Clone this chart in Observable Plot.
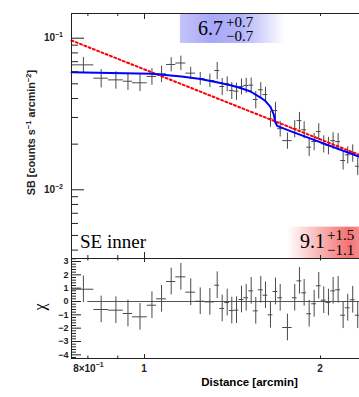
<!DOCTYPE html>
<html><head><meta charset="utf-8">
<script src="https://cdn.jsdelivr.net/npm/d3@7"></script>
<script src="https://cdn.jsdelivr.net/npm/@observablehq/plot@0.6"></script>
<style>
html,body{margin:0;padding:0;background:#fff;overflow:hidden;width:359px;height:397px;}
#chart svg{display:block;max-width:none;}
</style></head><body><div id="chart"></div>
<script>
// ---- data ----
const dist = [0.786, 0.843, 0.8933, 0.9368, 0.9823, 1.0296, 1.0694, 1.1107, 1.1538, 1.1995, 1.2452, 1.2934,
  1.3313, 1.3578, 1.3848, 1.4101, 1.4364, 1.4650, 1.4924, 1.5220, 1.5498, 1.5806, 1.6101, 1.6421, 1.6748,
  1.7061, 1.7557, 1.8069, 1.8407, 1.8751, 1.9124, 1.9504, 1.9860, 2.0255, 2.0633, 2.1018, 2.1436, 2.1862,
  2.2261, 2.2704, 2.3156];
const distErr = [0.033, 0.024, 0.0264, 0.0172, 0.0284, 0.0189, 0.021, 0.0203, 0.0228, 0.0229, 0.0229, 0.0254,
  0.0126, 0.0129, 0.0131, 0.0134, 0.0136, 0.0139, 0.0142, 0.0144, 0.0147, 0.015, 0.0153, 0.0156, 0.0159,
  0.0162, 0.0328, 0.0171, 0.0175, 0.0178, 0.0181, 0.0185, 0.0188, 0.0192, 0.0196, 0.0199, 0.0203, 0.0207,
  0.0211, 0.0215, 0.022];
const sb = [0.0667, 0.0545, 0.0531, 0.0520, 0.0508, 0.0559, 0.0582, 0.0671, 0.0686, 0.0588, 0.0542, 0.0526,
  0.0612, 0.0480, 0.0500, 0.0452, 0.0447, 0.0480, 0.0488, 0.0490, 0.0394, 0.0457, 0.0425, 0.0294, 0.0333,
  0.0253, 0.0211, 0.0253, 0.0286, 0.0249, 0.0191, 0.0208, 0.0242, 0.0201, 0.0196, 0.0211, 0.0208, 0.0156,
  0.0170, 0.0175, 0.0143];
const sbErr = [0.0080, 0.0075, 0.0070, 0.0068, 0.0064, 0.0070, 0.0072, 0.0072, 0.0075, 0.0055, 0.0052, 0.0054,
  0.0080, 0.0062, 0.0056, 0.0058, 0.0058, 0.0058, 0.0056, 0.0056, 0.0052, 0.0052, 0.0050, 0.0036, 0.0044,
  0.0030, 0.0026, 0.0033, 0.0038, 0.0032, 0.0025, 0.0027, 0.0031, 0.0026, 0.0026, 0.0027, 0.0027, 0.0021,
  0.0022, 0.0023, 0.0019];
const chi = [0.92, -0.6, -0.65, -0.9, -1.15, -0.28, 0.2, 1.5, 1.85, 0.7, 0.02, -0.03,
  1.22, -0.52, -0.08, -0.68, -0.65, 0.15, 0.28, 0.8, -0.7, 0.88, 0.47, -1.0, 0.75,
  0.28, -1.95, 0.28, 1.55, 0.65, -0.92, -0.17, 1.18, 0.1, -0.08, 0.8, 0.88, -1.03,
  -0.47, 0.13, -1.03];
// best-fit model with density jump (blue)
const modelDist = [0.750, 0.8747, 1.0280, 1.1568, 1.2467, 1.3486, 1.4090, 1.4590, 1.5181, 1.5788, 1.6100,
  1.6421, 1.6634, 1.6746, 1.6858, 1.7764, 2.3315, 3.06];
const modelSB = [0.0597, 0.0589, 0.0582, 0.0559, 0.0538, 0.0506, 0.0488, 0.0469, 0.0445, 0.0406, 0.0385,
  0.0352, 0.0314, 0.0278, 0.0264, 0.0244, 0.0165, 0.0112];
// single power-law model (red dotted)
const plDist = [0.75, 1.0, 1.5, 2.0, 3.06];
const plSB = [0.0966, 0.0622, 0.0334, 0.0215, 0.0112];
// axis ticks
const sbMajorTicks = [0.1, 0.01];
const sbMajorLabels = [["10", "−1"], ["10", "−2"]];
const sbMinorTicks = [0.09, 0.08, 0.07, 0.06, 0.05, 0.04, 0.03, 0.02, 0.009, 0.008, 0.007, 0.006, 0.005, 0.004];
const distMajorTicks = [1];
const distMinorTicks = [0.8, 0.9, 2, 3];
const distTickValues = [0.8, 1, 2];
const distTickLabels = [["8×10", "−1"], ["1", ""], ["2", ""]];
const chiTicks = [-4, -3, -2, -1, 0, 1, 2, 3];
const chiMinorTicks = [-4.2,-3.8,-3.6,-3.4,-3.2,-2.8,-2.6,-2.4,-2.2,-1.8,-1.6,-1.4,-1.2,-0.8,-0.6,-0.4,-0.2,
  0.2,0.4,0.6,0.8,1.2,1.4,1.6,1.8,2.2,2.4,2.6,2.8,3.2];
const jumpBlue = ["6.7", "+0.7", "−0.7"];
const jumpRed = ["9.1", "+1.5", "−1.1"];
const regionLabel = "SE inner";

// ---- layout ----
const W = 440, ML = 71, MR = 12;
const topH = 258, MT = 13, botH = 139, MB = 39;
const frameW = W - ML - MR, topFrameH = topH - MT, botFrameH = botH - MB;
const SANS = "Liberation Sans, Arial, Helvetica, sans-serif";
const SERIF = "Liberation Serif, Times New Roman, serif";
const INK = "#222";
const PT = "#4a4a4a";

const rows = dist.map((d, i) => ({dist: d, dErr: distErr[i], sb: sb[i], sbErr: sbErr[i], chi: chi[i]}));
const model = modelDist.map((d, i) => ({dist: d, sb: modelSB[i]}));
const pl = plDist.map((d, i) => ({dist: d, sb: plSB[i]}));

const xOpt = {type: "log", domain: [0.75, 3.06], axis: null};

const topPlot = Plot.plot({
  width: W, height: topH, marginTop: MT, marginBottom: 0, marginLeft: ML, marginRight: MR,
  style: {maxWidth: "none", background: "#fff", overflow: "hidden", display: "block"},
  x: xOpt,
  y: {type: "log", domain: [0.003522, 0.1455], axis: null},
  marks: [
    Plot.rect([0], {x1: () => 1.152, x2: () => 1.742, y1: () => 0.0923, y2: () => 0.1455, fill: "url(#gBlue)"}),
    Plot.rect([0], {x1: () => 1.755, x2: () => 2.849, y1: () => 0.003522, y2: () => 0.00567, fill: "url(#gRed)"}),
    Plot.ruleY(rows, {y: "sb", x1: d => d.dist - d.dErr, x2: d => d.dist + d.dErr, stroke: PT, strokeWidth: 1}),
    Plot.ruleX(rows, {x: "dist", y1: d => d.sb - d.sbErr, y2: d => d.sb + d.sbErr, stroke: PT, strokeWidth: 1}),
    Plot.line(pl, {x: "dist", y: "sb", stroke: "#ff0000", strokeWidth: 2, strokeDasharray: "2,2.6"}),
    Plot.line(model, {x: "dist", y: "sb", stroke: "#0000ff", strokeWidth: 2}),
    Plot.tickY(sbMajorTicks, {y: d => d, insetRight: frameW - 13, stroke: INK}),
    Plot.tickY(sbMinorTicks, {y: d => d, insetRight: frameW - 7, stroke: INK}),
    Plot.tickX(distMajorTicks, {x: d => d, insetBottom: topFrameH - 6, stroke: INK}),
    Plot.tickX(distMinorTicks, {x: d => d, insetBottom: topFrameH - 3, stroke: INK}),
    Plot.tickX(distMajorTicks, {x: d => d, insetTop: topFrameH - 6, stroke: INK}),
    Plot.tickX(distMinorTicks, {x: d => d, insetTop: topFrameH - 3, stroke: INK}),
    Plot.frame({stroke: INK})
  ]
});

const botPlot = Plot.plot({
  width: W, height: botH, marginTop: 0, marginBottom: MB, marginLeft: ML, marginRight: MR,
  style: {maxWidth: "none", background: "#fff", overflow: "visible", display: "block"},
  x: xOpt,
  y: {domain: [-4.275, 3.225], axis: null},
  marks: [
    Plot.ruleY([0], {x1: () => 0.8, x2: () => 3.06, stroke: "#555", strokeWidth: 1}),
    Plot.ruleY(rows, {y: "chi", x1: d => d.dist - d.dErr, x2: d => d.dist + d.dErr, stroke: PT, strokeWidth: 1}),
    Plot.ruleX(rows, {x: "dist", y1: d => d.chi - 1, y2: d => d.chi + 1, stroke: PT, strokeWidth: 1}),
    Plot.tickY(chiTicks, {y: d => d, insetRight: frameW - 10, stroke: INK}),
    Plot.tickY(chiMinorTicks, {y: d => d, insetRight: frameW - 5, stroke: INK}),
    Plot.tickX(distMajorTicks, {x: d => d, insetBottom: botFrameH - 4, stroke: INK}),
    Plot.tickX(distMinorTicks, {x: d => d, insetBottom: botFrameH - 2.5, stroke: INK}),
    Plot.tickX(distMajorTicks, {x: d => d, insetTop: botFrameH - 4, stroke: INK}),
    Plot.tickX(distMinorTicks, {x: d => d, insetTop: botFrameH - 2.5, stroke: INK}),
    Plot.text(chiTicks, {y: d => d, text: d => d < 0 ? "−" + (-d) : String(d), frameAnchor: "left",
      textAnchor: "end", dx: -3, fontWeight: "bold", fontSize: 9, fontFamily: SANS, fill: INK}),
    Plot.frame({stroke: INK})
  ]
});

// ---- gradients ----
const defs = d3.select(topPlot).insert("defs", ":first-child");
const gB = defs.append("linearGradient").attr("id", "gBlue");
[[0, 0.30], [0.3, 0.45], [0.6, 0.38], [1, 0]].forEach(([o, a]) =>
  gB.append("stop").attr("offset", o).attr("stop-color", "rgb(60,60,240)").attr("stop-opacity", a));
const gR = defs.append("linearGradient").attr("id", "gRed");
[[0, 0], [0.5, 0.62], [1, 0]].forEach(([o, a]) =>
  gR.append("stop").attr("offset", o).attr("stop-color", "rgb(235,30,30)").attr("stop-opacity", a));

function addText(svg, x, y, parts, o) {
  const t = d3.select(svg).append("text").attr("x", x).attr("y", y)
    .attr("text-anchor", o.anchor || "start").attr("font-family", o.family || SANS)
    .attr("font-size", o.size).attr("font-weight", o.weight || "normal").attr("fill", o.fill || INK);
  if (o.transform) t.attr("transform", o.transform).attr("x", 0).attr("y", 0);
  parts.forEach(p => {
    const s = t.append("tspan").text(p.t);
    if (p.dy) s.attr("dy", p.dy);
    if (p.size) s.attr("font-size", p.size);
  });
  return t;
}

// y tick labels (top)
const ysTop = topPlot.scale("y");
sbMajorTicks.forEach((v, i) => {
  const yy = ysTop.apply(v) + 3.8;
  addText(topPlot, 63, yy, [{t: sbMajorLabels[i][0]}, {t: sbMajorLabels[i][1], dy: -4.5, size: 7}],
    {anchor: "end", size: 10, weight: "bold"});
});
// y title
addText(topPlot, 0, 0, [
  {t: "SB [counts s"}, {t: "−1", dy: -4, size: 7.5}, {t: " arcmin", dy: 4},
  {t: "−2", dy: -4, size: 7.5}, {t: "]", dy: 4}],
  {anchor: "end", size: 10.8, weight: "bold", transform: "translate(34.5,70) rotate(-90)"});
// region label
addText(topPlot, 80, 248, [{t: regionLabel}], {family: SERIF, size: 19, fill: "#000"});
// jump annotations
addText(topPlot, 198, 35, [{t: jumpBlue[0]}], {family: SERIF, size: 20, fill: "#000"});
addText(topPlot, 226, 26.5, [{t: jumpBlue[1]}], {family: SERIF, size: 15, fill: "#000"});
addText(topPlot, 226, 41, [{t: jumpBlue[2]}], {family: SERIF, size: 15, fill: "#000"});
addText(topPlot, 300, 248.3, [{t: jumpRed[0]}], {family: SERIF, size: 20, fill: "#000"});
addText(topPlot, 327, 240, [{t: jumpRed[1]}], {family: SERIF, size: 15, fill: "#000"});
addText(topPlot, 327, 254.5, [{t: jumpRed[2]}], {family: SERIF, size: 15, fill: "#000"});

// bottom x tick labels
const xsBot = botPlot.scale("x");
distTickValues.forEach((v, i) => {
  const [b, s] = distTickLabels[i];
  const parts = [{t: b}];
  if (s) parts.push({t: s, dy: -4.5, size: 7});
  addText(botPlot, xsBot.apply(v) + (s ? 1 : 0), 113.5, parts, {anchor: "middle", size: 10, weight: "bold"});
});
// chi title
addText(botPlot, 0, 0, [{t: "χ"}], {anchor: "middle", family: SERIF, size: 16, fill: "#000",
  transform: "translate(45,49) rotate(-90)"});
// x title
addText(botPlot, ML + frameW / 2, 128, [{t: "Distance [arcmin]"}], {anchor: "middle", size: 11.5, weight: "bold", fill: "#000"});

document.getElementById("chart").append(topPlot, botPlot);
</script></body></html>
